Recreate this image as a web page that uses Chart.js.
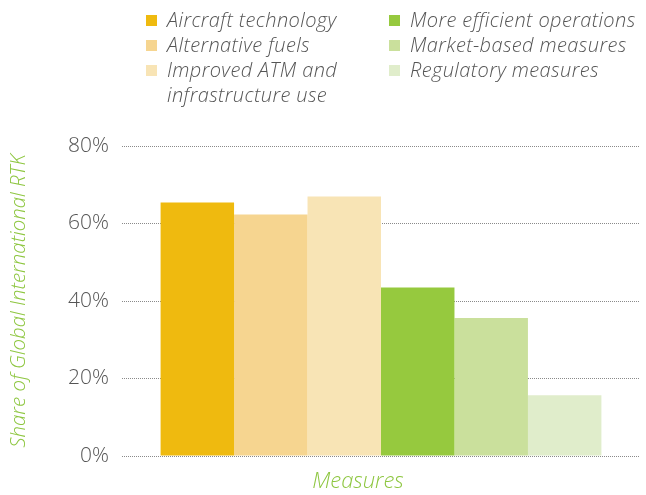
<!DOCTYPE html>
<html>
<head>
<meta charset="utf-8">
<script src="https://cdn.jsdelivr.net/npm/chart.js@4"></script>
<style>
  html, body { margin: 0; padding: 0; background: #fff; }
  #wrap { position: relative; width: 646px; height: 495px; }
  #legend { position: absolute; left: 0; top: 0; font-family: "Open Sans", Roboto, sans-serif; font-style: italic; font-weight: 300; font-size: 20px; letter-spacing: 0.4px; color: #555; }
  .item { position: absolute; line-height: 25px; }
  .box { position: absolute; width: 11px; height: 11px; left: 0; top: 8px; }
  .txt { position: absolute; left: 21px; top: 0; white-space: normal; }
</style>
</head>
<body>
<div id="wrap">
  <canvas id="c" width="646" height="495"></canvas>
  <div id="legend"></div>
</div>
<script>
const categories = [''];
const seriesNames = [
  'Aircraft technology',
  'Alternative fuels',
  'Improved ATM and infrastructure use',
  'More efficient operations',
  'Market-based measures',
  'Regulatory measures'
];
const seriesValues = [65.4, 62.3, 67.0, 43.5, 35.6, 15.7];
const seriesColors = ['#EFBA0F', '#F6D590', '#F8E4B5', '#96C93E', '#CAE09C', '#E0EDCB'];
const yTicks = [0, 20, 40, 60, 80];
const yTitle = 'Share of Global International RTK';
const xTitle = 'Measures';

const FONT = '"Open Sans", Roboto, sans-serif';

const datasets = seriesNames.map((n, i) => ({
  label: n,
  data: [seriesValues[i]],
  backgroundColor: seriesColors[i],
  borderWidth: 0,
  categoryPercentage: 0.851,
  barPercentage: 1.0
}));

const xTitlePlugin = {
  id: 'xTitle',
  afterDraw(chart) {
    const ctx = chart.ctx;
    const a = chart.chartArea;
    ctx.save();
    ctx.font = 'italic 300 22px ' + FONT;
    ctx.fillStyle = '#8DC63F';
    ctx.textAlign = 'center';
    ctx.textBaseline = 'middle';
    ctx.fillText(xTitle, (a.left + a.right) / 2 - 23, a.bottom + 26);
    ctx.restore();
  }
};

const chart = new Chart(document.getElementById('c'), {
  type: 'bar',
  data: { labels: categories, datasets },
  options: {
    responsive: false,
    animation: false,
    layout: { padding: { top: 146, right: 6, bottom: 39, left: 0 } },
    plugins: {
      legend: { display: false },
      tooltip: { enabled: false }
    },
    scales: {
      x: { display: false },
      y: {
        min: 0, max: 80,
        afterFit(s) { s.width = 122; },
        afterBuildTicks(s) { s.ticks = yTicks.map(v => ({ value: v })); },
        ticks: {
          padding: 13,
          color: '#555',
          font: { family: FONT, size: 21, weight: 300 },
          callback: v => v + '%'
        },
        grid: { color: '#8a8a8a', lineWidth: 1, drawTicks: false },
        border: { display: false, dash: [1, 1] },
        title: {
          display: true,
          text: yTitle,
          color: '#8DC63F',
          padding: { top: 7, bottom: 0 },
          font: { family: FONT, size: 20.4, style: 'italic', weight: 300 }
        }
      }
    }
  },
  plugins: [xTitlePlugin]
});

// HTML legend built from the datasets, two columns of three
const legend = document.getElementById('legend');
const colX = [146, 389];
const colW = [205, 250];
const rowY = [7, 32, 57];
chart.data.datasets.forEach((ds, i) => {
  const col = Math.floor(i / 3), row = i % 3;
  const it = document.createElement('div');
  it.className = 'item';
  it.style.left = colX[col] + 'px';
  it.style.top = rowY[row] + 'px';
  const b = document.createElement('span');
  b.className = 'box';
  b.style.background = ds.backgroundColor;
  const t = document.createElement('span');
  t.className = 'txt';
  t.style.width = colW[col] + 'px';
  t.textContent = ds.label;
  it.appendChild(b); it.appendChild(t);
  legend.appendChild(it);
});
</script>
</body>
</html>
